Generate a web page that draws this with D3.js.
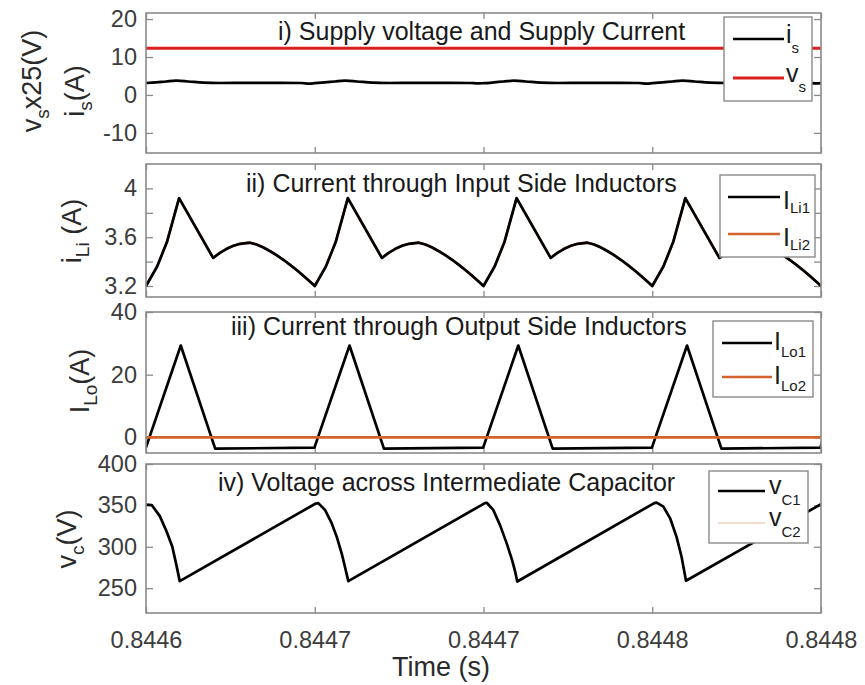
<!DOCTYPE html>
<html>
<head>
<meta charset="utf-8">
<script src="https://cdn.jsdelivr.net/npm/d3@7"></script>
<style>
  body { margin: 0; background: #fff; }
  svg { display: block; }
  text { font-family: "Liberation Sans", Arial, Helvetica, sans-serif; }
</style>
</head>
<body>
<svg id="chart" width="865" height="685"></svg>
<script>
// Time is stored in microseconds after t0 = 0.8446 s.
const xTickValues = [0, 50, 100, 150, 200];
const xTickLabels = ["0.8446", "0.8447", "0.8447", "0.8448", "0.8448"];

// i) supply current (A) and supply voltage scaled by 1/25 (V)
const supplyCurrent = [
  [0,3.15],[3,3.3],[6,3.55],[9,3.75],[12.5,3.55],[17,3.25],[22,3.15],[30,3.2],[40,3.2],[46,3.15],[48.5,3.0],[50,3.1],
  [53,3.3],[56,3.55],[59,3.75],[62.5,3.55],[67,3.25],[72,3.15],[80,3.2],[90,3.2],[96,3.15],[98.5,3.05],[100,3.1],
  [103,3.3],[106,3.55],[109,3.75],[112.5,3.55],[117,3.25],[122,3.15],[130,3.2],[140,3.2],[146,3.15],[148.5,3.0],[150,3.1],
  [153,3.3],[156,3.55],[159,3.75],[162.5,3.55],[167,3.25],[172,3.15],[180,3.2],[190,3.2],[196,3.15],[198.5,3.05],[200,3.1]
];
const supplyVoltageScaled = [[0,12.3],[50,12.3],[100,12.3],[150,12.3],[200,12.3]];

// ii) input side inductor currents (A); both inductors carry the same waveform
const inputInductor1 = [
  [0,3.20],[3.3,3.36],[6.2,3.56],[9.8,3.92],[19.9,3.43],[21.9,3.472],[23.9,3.505],[25.9,3.53],[27.9,3.546],[30.8,3.555],[32.8,3.54],[34.8,3.516],[36.8,3.485],[38.8,3.451],[40.8,3.413],[42.8,3.371],[44.8,3.327],[46.8,3.28],[48.8,3.231],
  [50,3.20],[53.3,3.36],[56.2,3.56],[59.8,3.92],[69.9,3.43],[71.9,3.472],[73.9,3.505],[75.9,3.53],[77.9,3.546],[80.8,3.555],[82.8,3.54],[84.8,3.516],[86.8,3.485],[88.8,3.451],[90.8,3.413],[92.8,3.371],[94.8,3.327],[96.8,3.28],[98.8,3.231],
  [100,3.20],[103.3,3.36],[106.2,3.56],[109.8,3.92],[119.9,3.43],[121.9,3.472],[123.9,3.505],[125.9,3.53],[127.9,3.546],[130.8,3.555],[132.8,3.54],[134.8,3.516],[136.8,3.485],[138.8,3.451],[140.8,3.413],[142.8,3.371],[144.8,3.327],[146.8,3.28],[148.8,3.231],
  [150,3.20],[153.3,3.36],[156.2,3.56],[159.8,3.92],[169.9,3.43],[171.9,3.472],[173.9,3.505],[175.9,3.53],[177.9,3.546],[180.8,3.555],[182.8,3.54],[184.8,3.516],[186.8,3.485],[188.8,3.451],[190.8,3.413],[192.8,3.371],[194.8,3.327],[196.8,3.28],[198.8,3.231],[200,3.20]
];
const inputInductor2 = inputInductor1;

// iii) output side inductor currents (A)
const outputInductor1 = [
  [0,-3.2],[10.3,29.3],[20.5,-3.6],[49.9,-3.3],
  [60.3,29.3],[70.5,-3.6],[99.9,-3.3],
  [110.3,29.3],[120.5,-3.6],[149.9,-3.3],
  [160.3,29.3],[170.5,-3.6],[199.8,-3.3],[200.5,-1.0]
];
const outputInductor2 = [[0,0],[50,0],[100,0],[150,0],[200,0]];

// iv) intermediate capacitor voltages (V)
const capVoltage1 = [
  [0,351],[1.7,350.5],[4.1,337],[6.1,318.5],[7.8,300],[8.9,280],[10.0,258.5],
  [50.3,352.3],[51.05,352.8],[53.04,344.5],[55.04,328.3],[56.52,312],[58.0,291.8],[58.96,275.5],[59.94,258.5],
  [100.3,352.5],[100.95,353.2],[102.9,344.5],[104.9,326.2],[106.9,303.8],[108.5,283.5],[109.3,271.3],[110.0,258],
  [150.6,352.8],[151.3,353.3],[153.3,348.5],[155.3,334.4],[157.2,312],[158.7,287.6],[160.0,259],
  [200,351.5]
];
const capVoltage2 = capVoltage1;

// y ticks per panel
const p1Ticks = [-10, 0, 10, 20],        p1TickLabels = ["-10", "0", "10", "20"];
const p2Ticks = [3.2, 3.4, 3.6, 3.8, 4.0], p2TickLabels = ["3.2", "", "3.6", "", "4"];
const p3Ticks = [0, 20, 40],             p3TickLabels = ["0", "20", "40"];
const p4Ticks = [250, 300, 350, 400],    p4TickLabels = ["250", "300", "350", "400"];

const BLACK = "#000000", RED = "#dc1f1f", ORANGE = "#d4622c", FRAME = "#8a8a8a", TICKTEXT = "#3c3c3c";

const svg = d3.select("#chart");
const xLeft = 146, xRight = 821;
const x = d3.scaleLinear().domain([0, 200]).range([xLeft, xRight]);

const panels = [
  {
    top: 13, bottom: 153, domain: [-15.3, 21.6], ticks: p1Ticks, tickLabels: p1TickLabels,
    title: "i) Supply voltage and Supply Current", titleX: 278, titleY: 40,
    series: [
      { data: supplyVoltageScaled, color: RED, width: 3, curve: d3.curveLinear },
      { data: supplyCurrent, color: BLACK, width: 2.7, curve: d3.curveMonotoneX }
    ],
    ylabels: [
      { x: 41, y: 81, parts: [["v"], ["s", 1], ["x25(V)"]] },
      { x: 84, y: 91, parts: [["i"], ["s", 1], ["(A)"]] }
    ],
    legend: { x: 724, y: 17, w: 88, h: 84, rows: [39, 78], lx: [733, 784], tx: 786, mainDy: 4, subDy: 14,
      items: [{ main: "i", sub: "s", color: BLACK, width: 2.7 }, { main: "v", sub: "s", color: RED, width: 3 }] }
  },
  {
    top: 164, bottom: 297, domain: [3.11, 4.2], ticks: p2Ticks, tickLabels: p2TickLabels,
    title: "ii) Current through Input Side Inductors", titleX: 246, titleY: 192,
    series: [
      { data: inputInductor2, color: ORANGE, width: 2.4, curve: d3.curveLinear },
      { data: inputInductor1, color: BLACK, width: 2.7, curve: d3.curveLinear }
    ],
    ylabels: [{ x: 81, y: 231, parts: [["i"], ["Li", 1], [" (A)"]] }],
    legend: { x: 720, y: 175, w: 95, h: 82, rows: [197, 234], lx: [728, 780], tx: 783, mainDy: 12, subDy: 16,
      items: [{ main: "I", sub: "Li1", color: BLACK, width: 2.7 }, { main: "I", sub: "Li2", color: ORANGE, width: 2.4 }] }
  },
  {
    top: 312, bottom: 453, domain: [-5, 40], ticks: p3Ticks, tickLabels: p3TickLabels,
    title: "iii) Current through Output Side Inductors", titleX: 231, titleY: 335,
    series: [
      { data: outputInductor1, color: BLACK, width: 2.7, curve: d3.curveLinear },
      { data: outputInductor2, color: ORANGE, width: 2.6, curve: d3.curveLinear }
    ],
    ylabels: [{ x: 89, y: 381, parts: [["I"], ["Lo", 1], ["(A)"]] }],
    legend: { x: 713, y: 321, w: 100, h: 76, rows: [343, 377], lx: [722, 772], tx: 774, mainDy: 7, subDy: 14,
      items: [{ main: "I", sub: "Lo1", color: BLACK, width: 2.7 }, { main: "I", sub: "Lo2", color: ORANGE, width: 2.6 }] }
  },
  {
    top: 464, bottom: 613, domain: [220, 400], ticks: p4Ticks, tickLabels: p4TickLabels,
    title: "iv) Voltage across Intermediate Capacitor", titleX: 218, titleY: 491,
    series: [
      { data: capVoltage2, color: "#e9b79a", width: 1, curve: d3.curveLinear },
      { data: capVoltage1, color: BLACK, width: 2.7, curve: d3.curveLinear }
    ],
    ylabels: [{ x: 76, y: 539, parts: [["v"], ["c", 1], ["(V)"]] }],
    legend: { x: 709, y: 471, w: 99, h: 72, rows: [491, 523], lx: [718, 765], tx: 769, mainDy: 3, subDy: 14,
      items: [{ main: "v", sub: "C1", color: BLACK, width: 2.7 }, { main: "v", sub: "C2", color: "#e9b79a", width: 1.2 }] },
    xLabels: true
  }
];

// Writes main text with lowered subscripts into a <text> element.
function richText(textSel, parts, size, subSize, subDrop) {
  let lowered = false;
  parts.forEach(([t, isSub]) => {
    const ts = textSel.append("tspan").text(t);
    if (isSub && !lowered) { ts.attr("font-size", subSize).attr("dy", subDrop); lowered = true; }
    else if (!isSub && lowered) { ts.attr("font-size", size).attr("dy", -subDrop); lowered = false; }
    else ts.attr("font-size", isSub ? subSize : size);
  });
}

panels.forEach((p, i) => {
  const y = d3.scaleLinear().domain(p.domain).range([p.bottom, p.top]);
  const g = svg.append("g");

  const clipId = "clip" + i;
  svg.append("clipPath").attr("id", clipId)
    .append("rect").attr("x", xLeft).attr("y", p.top).attr("width", xRight - xLeft).attr("height", p.bottom - p.top);

  // white plot background
  g.append("rect").attr("x", xLeft).attr("y", p.top).attr("width", xRight - xLeft).attr("height", p.bottom - p.top)
    .attr("fill", "#fff");

  // axes with inward ticks on all four sides
  const styleAxis = sel => {
    sel.select(".domain").remove();
    sel.selectAll(".tick line").attr("stroke", FRAME).attr("stroke-width", 1.3);
    sel.selectAll(".tick text").attr("fill", TICKTEXT).attr("font-size", 23.5)
      .attr("font-family", "'Liberation Sans', Arial, sans-serif");
  };
  g.append("g").attr("transform", `translate(${xLeft},0)`)
    .call(d3.axisLeft(y).tickValues(p.ticks).tickSizeInner(-7).tickSizeOuter(0).tickPadding(9)
      .tickFormat((d, k) => p.tickLabels[k]))
    .call(styleAxis);
  g.append("g").attr("transform", `translate(${xRight},0)`)
    .call(d3.axisRight(y).tickValues(p.ticks).tickSizeInner(-7).tickSizeOuter(0).tickFormat(() => ""))
    .call(styleAxis);
  g.append("g").attr("transform", `translate(0,${p.top})`)
    .call(d3.axisTop(x).tickValues(xTickValues).tickSizeInner(-6).tickSizeOuter(0).tickFormat(() => ""))
    .call(styleAxis);
  g.append("g").attr("transform", `translate(0,${p.bottom})`)
    .call(d3.axisBottom(x).tickValues(xTickValues).tickSizeInner(-6).tickSizeOuter(0).tickPadding(18)
      .tickFormat((d, k) => p.xLabels ? xTickLabels[k] : ""))
    .call(styleAxis);

  // data lines
  const plot = g.append("g").attr("clip-path", `url(#${clipId})`);
  p.series.forEach(s => {
    const line = d3.line().x(d => x(d[0])).y(d => y(d[1])).curve(s.curve);
    plot.append("path").datum(s.data).attr("d", line).attr("fill", "none")
      .attr("stroke", s.color).attr("stroke-width", s.width).attr("stroke-linejoin", "round");
  });

  // frame
  g.append("rect").attr("x", xLeft).attr("y", p.top).attr("width", xRight - xLeft).attr("height", p.bottom - p.top)
    .attr("fill", "none").attr("stroke", FRAME).attr("stroke-width", 1.6);

  // panel title
  g.append("text").attr("x", p.titleX).attr("y", p.titleY).attr("font-size", 25).attr("fill", "#1a1a1a")
    .text(p.title);

  // rotated y labels
  p.ylabels.forEach(l => {
    const t = g.append("text").attr("transform", `translate(${l.x},${l.y}) rotate(-90)`)
      .attr("text-anchor", "middle").attr("fill", "#2a2a2a");
    richText(t, l.parts, 27, 19, 8);
  });

  // legend
  const L = p.legend;
  const lg = g.append("g");
  lg.append("rect").attr("x", L.x).attr("y", L.y).attr("width", L.w).attr("height", L.h)
    .attr("fill", "#fff").attr("stroke", FRAME).attr("stroke-width", 1.4);
  L.items.forEach((it, k) => {
    const ry = L.rows[k];
    lg.append("line").attr("x1", L.lx[0]).attr("x2", L.lx[1]).attr("y1", ry).attr("y2", ry)
      .attr("stroke", it.color).attr("stroke-width", it.width);
    const t = lg.append("text").attr("x", L.tx).attr("y", ry + L.mainDy).attr("fill", "#1a1a1a");
    t.append("tspan").attr("font-size", 25).text(it.main);
    t.append("tspan").attr("font-size", 15).attr("dy", L.subDy - L.mainDy).text(it.sub);
  });
});

// x axis label
svg.append("text").attr("x", 441).attr("y", 676).attr("text-anchor", "middle")
  .attr("font-size", 27).attr("fill", "#2a2a2a").text("Time (s)");
</script>
</body>
</html>
